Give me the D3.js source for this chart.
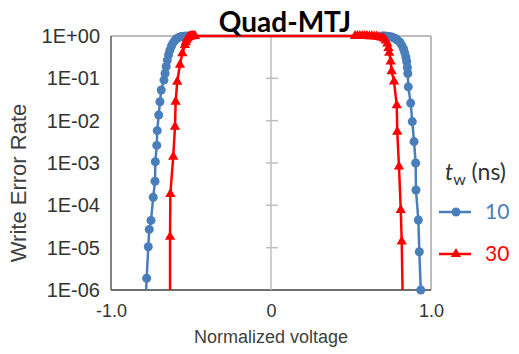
<!DOCTYPE html>
<html>
<head>
<meta charset="utf-8">
<script src="https://cdn.jsdelivr.net/npm/d3@7"></script>
<style>
  body { margin: 0; background: #fff; }
  svg { display: block; }
</style>
</head>
<body>
<svg id="chart"></svg>
<script>
// t_w = 10 ns (blue circles)
var voltage10 = [-0.785, -0.777, -0.767, -0.761, -0.750, -0.736, -0.725, -0.723, -0.714, -0.711, -0.702, -0.694, -0.686,
  -0.669, -0.662, -0.655, -0.648, -0.640, -0.632, -0.622, -0.612, -0.600, -0.588, -0.575, -0.560, -0.545, -0.530, -0.515,
  0.700, 0.710, 0.725, 0.740, 0.755, 0.770, 0.780, 0.790, 0.805, 0.817, 0.828, 0.836, 0.843, 0.848, 0.852, 0.855, 0.858,
  0.873, 0.883, 0.894, 0.904, 0.906, 0.921, 0.927, 0.936];
var wer10 = [4e-7, 1.9e-6, 1.05e-5, 2.7e-5, 4.4e-5, 1.55e-4, 3.7e-4, 1.07e-3, 2.6e-3, 5.8e-3, 1.36e-2, 2.8e-2, 5.3e-2,
  9.1e-2, 0.13, 0.19, 0.27, 0.36, 0.46, 0.58, 0.69, 0.79, 0.87, 0.93, 0.97, 0.99, 1.0, 1.0,
  1.0, 1.0, 0.99, 0.97, 0.94, 0.90, 0.86, 0.80, 0.72, 0.61, 0.50, 0.40, 0.32, 0.25, 0.18, 0.13, 0.063,
  2.6e-2, 9.5e-3, 3.2e-3, 1.0e-3, 2.3e-4, 4.5e-5, 8e-6, 1.0e-6];

// t_w = 30 ns (red triangles)
var voltage30 = [-0.631, -0.631, -0.629, -0.611, -0.600, -0.596, -0.586, -0.569, -0.554, -0.538, -0.532, -0.527, -0.522,
  -0.516, -0.510, -0.503, -0.496, -0.489, -0.482, -0.475,
  0.525, 0.540, 0.555, 0.570, 0.585, 0.600, 0.615, 0.630, 0.645, 0.660, 0.675, 0.690, 0.705, 0.717, 0.727, 0.734,
  0.739, 0.748, 0.754, 0.769, 0.786, 0.789, 0.800, 0.811, 0.817, 0.824];
var wer30 = [4e-7, 1.8e-5, 1.85e-4, 1.4e-3, 7.2e-3, 2.8e-2, 8.3e-2, 0.21, 0.39, 0.61, 0.72, 0.81, 0.88,
  0.93, 0.96, 0.98, 0.99, 1.0, 1.0, 1.0,
  1.0, 1.0, 1.0, 1.0, 1.0, 1.0, 0.99, 0.99, 0.98, 0.97, 0.95, 0.92, 0.87, 0.78, 0.66, 0.52,
  0.40, 0.25, 0.147, 8.4e-2, 2.3e-2, 5.5e-3, 8.2e-4, 7.8e-5, 1.4e-5, 4e-7];

var yTickValues = [1, 1e-1, 1e-2, 1e-3, 1e-4, 1e-5, 1e-6];
var yTickLabels = ["1E+00", "1E-01", "1E-02", "1E-03", "1E-04", "1E-05", "1E-06"];
var xTickValues = [-1, 0, 1];
var xTickLabels = ["-1.0", "0", "1.0"];
var seriesNames = ["10", "30"];

var W = 519, H = 354;
var plot = { left: 111, right: 431, top: 36, bottom: 290 };
var blue = "#4a7ebb", red = "#ff0000";
var axisFont = "'Liberation Sans', Arial, sans-serif";
var labelFont = "Lato, 'Liberation Sans', sans-serif";

var svg = d3.select("#chart").attr("width", W).attr("height", H);

var x = d3.scaleLinear().domain([-1, 1]).range([plot.left, plot.right]);
var y = d3.scaleLog().domain([1e-6, 1]).range([plot.bottom, plot.top]);

svg.append("defs").append("clipPath").attr("id", "clip")
  .append("rect")
  .attr("x", plot.left).attr("y", plot.top - 6)
  .attr("width", plot.right - plot.left).attr("height", plot.bottom - plot.top + 6);

// plot border
svg.append("line").attr("x1", plot.left).attr("x2", plot.right).attr("y1", plot.top).attr("y2", plot.top)
  .attr("stroke", "#a6a6a6").attr("stroke-width", 1.5);
svg.append("line").attr("x1", plot.right).attr("x2", plot.right).attr("y1", plot.top).attr("y2", plot.bottom)
  .attr("stroke", "#a6a6a6").attr("stroke-width", 1.5);
svg.append("line").attr("x1", plot.left).attr("x2", plot.left).attr("y1", plot.top).attr("y2", plot.bottom)
  .attr("stroke", "#595959").attr("stroke-width", 1.5);
svg.append("line").attr("x1", plot.left).attr("x2", plot.right).attr("y1", plot.bottom).attr("y2", plot.bottom)
  .attr("stroke", "#404040").attr("stroke-width", 1.5);

// vertical axis through x = 0 with cross ticks
var zeroAxis = svg.append("g").attr("transform", "translate(" + x(0) + ",0)");
zeroAxis.append("line").attr("y1", plot.top).attr("y2", plot.bottom)
  .attr("stroke", "#bfbfbf").attr("stroke-width", 1.5);
zeroAxis.selectAll("line.tick").data(yTickValues.slice(1, -1)).enter().append("line")
  .attr("class", "tick")
  .attr("x1", -5).attr("x2", 7)
  .attr("y1", function(d) { return y(d); }).attr("y2", function(d) { return y(d); })
  .attr("stroke", "#bfbfbf").attr("stroke-width", 1.5);

// y axis labels (low side)
var yAxis = d3.axisLeft(y).tickValues(yTickValues).tickSize(0).tickPadding(11)
  .tickFormat(function(d, i) { return yTickLabels[i]; });
var gy = svg.append("g").attr("transform", "translate(" + plot.left + ",0)").call(yAxis);
gy.select(".domain").remove();
gy.selectAll("text").attr("font-family", axisFont).attr("font-size", 20).attr("fill", "#333");

// x axis labels
var xAxis = d3.axisBottom(x).tickValues(xTickValues).tickSize(0).tickPadding(14)
  .tickFormat(function(d, i) { return xTickLabels[i]; });
var gx = svg.append("g").attr("transform", "translate(0," + plot.bottom + ")").call(xAxis);
gx.select(".domain").remove();
gx.selectAll("text").attr("font-family", axisFont).attr("font-size", 18).attr("fill", "#333");

// axis titles
svg.append("text").attr("x", x(0)).attr("y", 343).attr("text-anchor", "middle")
  .attr("font-family", axisFont).attr("font-size", 18).attr("fill", "#404040")
  .text("Normalized voltage");
svg.append("text").attr("transform", "translate(26," + ((plot.top + plot.bottom) / 2 + 20) + ") rotate(-90)")
  .attr("text-anchor", "middle")
  .attr("font-family", axisFont).attr("font-size", 22).attr("fill", "#404040")
  .text("Write Error Rate");

// series
var line = d3.line().x(function(d) { return x(d[0]); }).y(function(d) { return y(d[1]); });
var series = [
  { name: seriesNames[0], color: blue, pts: d3.zip(voltage10, wer10), shape: d3.symbolCircle, size: 64 },
  { name: seriesNames[1], color: red, pts: d3.zip(voltage30, wer30), shape: d3.symbolTriangle, size: 46 }
];

series.forEach(function(s) {
  var g = svg.append("g");
  g.append("path").datum(s.pts).attr("d", line)
    .attr("clip-path", "url(#clip)")
    .attr("fill", "none").attr("stroke", s.color).attr("stroke-width", 2.5);
  g.selectAll("path.m").data(s.pts.filter(function(d) { return d[1] >= 1e-6; })).enter()
    .append("path").attr("class", "m")
    .attr("d", d3.symbol().type(s.shape).size(s.size))
    .attr("transform", function(d) { return "translate(" + x(d[0]) + "," + y(d[1]) + ")"; })
    .attr("fill", s.color);
});

// title
svg.append("text").attr("x", 285).attr("y", 32).attr("text-anchor", "middle")
  .attr("font-family", labelFont).attr("font-weight", "bold").attr("font-size", 28).attr("fill", "#000")
  .text("Quad-MTJ");

// legend
var legTitle = svg.append("text").attr("x", 445).attr("y", 180)
  .attr("font-family", labelFont).attr("font-size", 23).attr("fill", "#333");
legTitle.append("tspan").attr("font-style", "italic").text("t");
legTitle.append("tspan").attr("font-size", 16).attr("dy", 5).text("w");
legTitle.append("tspan").attr("dy", -5).text(" (ns)");

var legend = svg.selectAll("g.leg").data(series).enter().append("g").attr("class", "leg")
  .attr("transform", function(d, i) { return "translate(0," + (212 + i * 42) + ")"; });
legend.append("line").attr("x1", 439).attr("x2", 471)
  .attr("stroke", function(d) { return d.color; }).attr("stroke-width", 2.5);
legend.append("path").attr("transform", "translate(456,0)")
  .attr("d", function(d) { return d3.symbol().type(d.shape).size(d.size)(); })
  .attr("fill", function(d) { return d.color; });
legend.append("text").attr("x", 485).attr("y", 7)
  .attr("font-family", labelFont).attr("font-size", 21)
  .attr("fill", function(d) { return d.color; })
  .text(function(d) { return d.name; });
</script>
</body>
</html>
